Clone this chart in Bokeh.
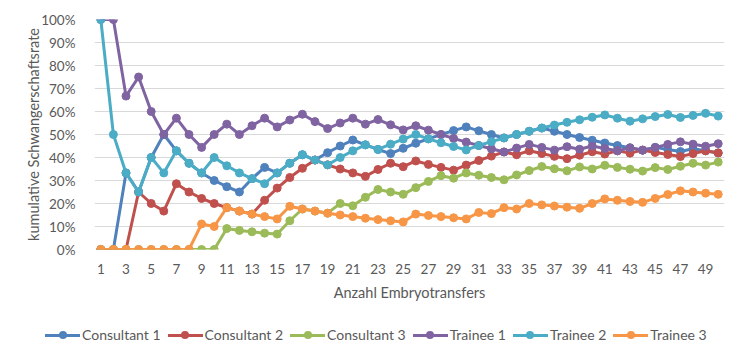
from bokeh.plotting import figure
from bokeh.layouts import column
from bokeh.models import Range1d, FixedTicker, PrintfTickFormatter, Div
from bokeh.embed import file_html
from bokeh.resources import INLINE

transfers = list(range(1, 51))
x_tick_values = list(range(1, 50, 2))

consultant_1 = [0, 0, 33.3, 25, 40, 50, 42.9, 37.5, 33.3, 30,
                27.3, 25, 30.8, 35.7, 33.3, 37.5, 41.2, 38.9, 42.1, 45,
                47.6, 45.5, 43.5, 41.7, 44, 46.2, 48.1, 50, 51.7, 53.3,
                51.6, 50, 48.5, 50, 51.4, 52.8, 51.4, 50, 48.7, 47.5,
                46.3, 45.2, 44.2, 43.2, 44.4, 43.5, 42.6, 43.8, 42.9, 42]
consultant_2 = [0, 0, 0, 25, 20, 16.7, 28.6, 25, 22.2, 20,
                18.2, 16.7, 15.4, 21.4, 26.7, 31.3, 35.3, 38.9, 36.8, 35,
                33.3, 31.8, 34.8, 37.5, 36, 38.5, 37, 35.7, 34.5, 36.7,
                38.7, 40.6, 42.4, 41.2, 42.9, 41.7, 40.5, 39.5, 41, 42.5,
                41.5, 42.9, 41.9, 43.2, 42.2, 41.3, 40.4, 41.7, 42.9, 42]
consultant_3 = [0, 0, 0, 0, 0, 0, 0, 0, 0, 0,
                9.1, 8.3, 7.7, 7.1, 6.7, 12.5, 17.6, 16.7, 15.8, 20,
                19, 22.7, 26.1, 25, 24, 26.9, 29.6, 32.1, 31, 33.3,
                32.3, 31.3, 30.3, 32.4, 34.3, 36.1, 35.1, 34.2, 35.9, 35,
                36.6, 35.7, 34.9, 34.1, 35.6, 34.8, 36.2, 37.5, 36.7, 38]
trainee_1 = [100, 100, 66.7, 75, 60, 50, 57.1, 50, 44.4, 50,
             54.5, 50, 53.8, 57.1, 53.3, 56.3, 58.8, 55.6, 52.6, 55,
             57.1, 54.5, 56.5, 54.2, 52, 53.8, 51.9, 50, 48.3, 46.7,
             45.2, 43.8, 42.4, 44.1, 45.7, 44.4, 43.2, 44.7, 43.6, 45,
             43.9, 42.9, 44.2, 43.2, 44.4, 45.7, 46.8, 45.8, 44.9, 46]
trainee_2 = [100, 50, 33.3, 25, 40, 33.3, 42.9, 37.5, 33.3, 40,
             36.4, 33.3, 30.8, 28.6, 33.3, 37.5, 41.2, 38.9, 36.8, 40,
             42.9, 45.5, 43.5, 45.8, 48, 50, 48.1, 46.4, 44.8, 43.3,
             45.2, 46.9, 48.5, 50, 51.4, 52.8, 54.1, 55.3, 56.4, 57.5,
             58.5, 57.1, 55.8, 56.8, 57.8, 58.7, 57.4, 58.3, 59.2, 58]
trainee_3 = [0, 0, 0, 0, 0, 0, 0, 0, 11.1, 10,
             18.2, 16.7, 15.4, 14.3, 13.3, 18.8, 17.6, 16.7, 15.8, 15,
             14.3, 13.6, 13, 12.5, 12, 15.4, 14.8, 14.3, 13.8, 13.3,
             16.1, 15.6, 18.2, 17.6, 20, 19.4, 18.9, 18.4, 17.9, 20,
             22, 21.4, 20.9, 20.5, 22.2, 23.9, 25.5, 25, 24.5, 24]

series_names = ["Consultant 1", "Consultant 2", "Consultant 3", "Trainee 1", "Trainee 2", "Trainee 3"]
series_values = [consultant_1, consultant_2, consultant_3, trainee_1, trainee_2, trainee_3]
series_colors = ["#4F81BD", "#C0504D", "#9BBB59", "#8064A2", "#4BACC6", "#F79646"]

FONT = "Lato"
TEXT = "#595959"

p = figure(width=743, height=308, output_backend="svg", toolbar_location=None,
           x_range=Range1d(0.5, 50.5), y_range=Range1d(0, 100),
           min_border_left=94, min_border_right=19, min_border_top=19, min_border_bottom=59)
p.outline_line_color = None
p.background_fill_color = "white"
p.border_fill_color = "white"

p.xaxis.ticker = FixedTicker(ticks=x_tick_values)
p.yaxis.ticker = FixedTicker(ticks=list(range(0, 101, 10)))
p.yaxis.formatter = PrintfTickFormatter(format="%d%%")
for ax in (p.xaxis, p.yaxis):
    ax.axis_line_color = None
    ax.major_tick_line_color = None
    ax.minor_tick_line_color = None
    ax.major_label_text_font = FONT
    ax.major_label_text_font_size = "13.5px"
    ax.major_label_text_color = TEXT
    ax.axis_label_text_font = FONT
    ax.axis_label_text_font_size = "14.5px"
    ax.axis_label_text_font_style = "normal"
    ax.axis_label_text_color = TEXT
p.xaxis.axis_label = "Anzahl Embryotransfers"
p.yaxis.axis_label = "kumulative Schwangerschaftsrate"
p.xaxis.major_label_standoff = 8
p.xaxis.axis_label_standoff = 7
p.yaxis.major_label_standoff = 13
p.yaxis.axis_label_standoff = -4
p.xgrid.grid_line_color = None
p.ygrid.grid_line_color = "#d9d9d9"
p.ygrid.grid_line_width = 1

for vals, col in zip(series_values, series_colors):
    p.line(transfers, vals, line_color=col, line_width=3)
    p.scatter(transfers, vals, marker="circle", size=8, fill_color=col, line_color=col)

# legend row below the chart, centred on the whole chart like the original
key_html = []
for name, col in zip(series_names, series_colors):
    key_html.append(
        '<span style="display:inline-flex;align-items:center;margin-right:7px">'
        '<span style="position:relative;display:inline-block;width:35px;height:18px;margin-right:2px">'
        f'<span style="position:absolute;left:0;top:7.5px;width:35px;height:3px;background:{col}"></span>'
        f'<span style="position:absolute;left:13.5px;top:5px;width:8px;height:8px;border-radius:50%;background:{col}"></span>'
        f'</span>{name}</span>'
    )
legend_div = Div(
    text=('<div style="display:flex;align-items:center;height:54px;padding-left:45px;'
          f'font-family:{FONT};font-size:14px;color:{TEXT};white-space:nowrap">'
          + "".join(key_html) + '</div>'),
    width=743, height=54, margin=0)

layout = column(p, legend_div, spacing=0)
open("out.html", "w").write(file_html(layout, INLINE))
